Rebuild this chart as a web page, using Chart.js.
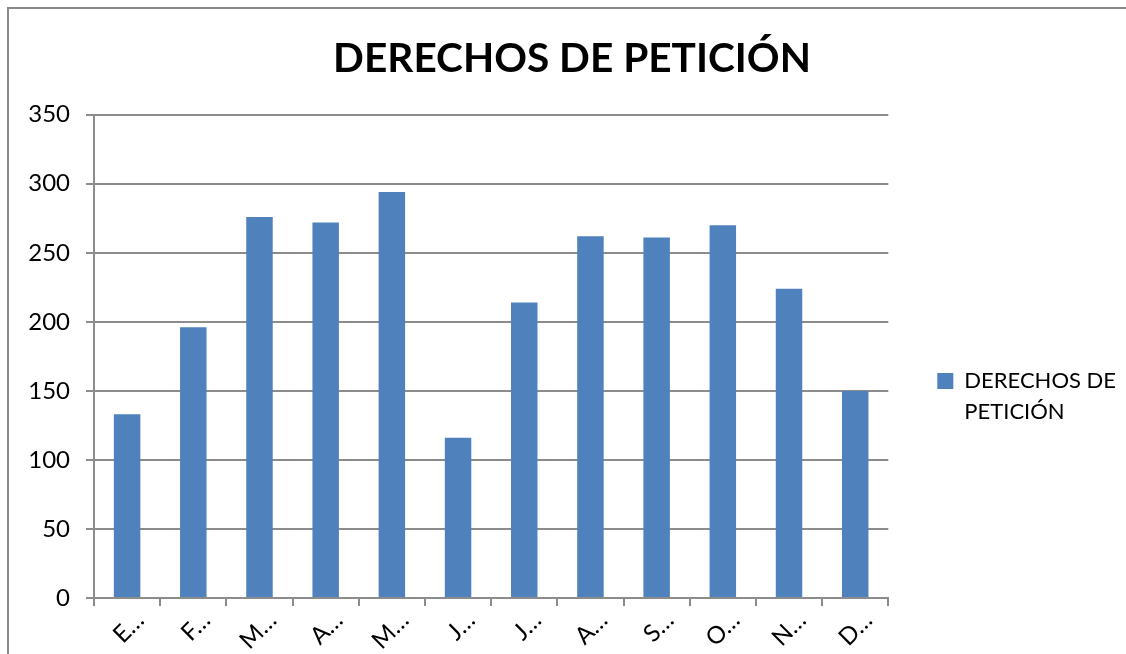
<!DOCTYPE html>
<html>
<head>
<meta charset="utf-8">
<script src="https://cdn.jsdelivr.net/npm/chart.js@4"></script>
<style>
  html, body { margin: 0; padding: 0; background: #fff; overflow: hidden; }
  #frame {
    position: absolute; left: 7px; top: 7px; width: 2000px; height: 2000px;
    border-top: 2px solid #8a8a8a; border-left: 2px solid #8a8a8a;
  }
  #wrap { position: absolute; left: 0; top: 0; width: 1126px; height: 654px; }
</style>
</head>
<body>
<div id="frame"></div>
<div id="wrap"><canvas id="peticionesChart"></canvas></div>
<script>
// Data
var months = ['ENERO', 'FEBRERO', 'MARZO', 'ABRIL', 'MAYO', 'JUNIO',
              'JULIO', 'AGOSTO', 'SEPTIEMBRE', 'OCTUBRE', 'NOVIEMBRE', 'DICIEMBRE'];
var peticiones = [133, 196, 276, 272, 294, 116, 214, 262, 261, 270, 224, 150];
var yTicks = [0, 50, 100, 150, 200, 250, 300, 350];
var seriesName = 'DERECHOS DE PETICIÓN';
var legendLines = ['DERECHOS DE', 'PETICIÓN'];

var gray = '#8c8c8c';
var fontFamily = 'Lato, "Open Sans", sans-serif';

var ctx = document.getElementById('peticionesChart').getContext('2d');
var peticionesChart = new Chart(ctx, {
  type: 'bar',
  data: {
    labels: months,
    datasets: [{
      label: seriesName,
      data: peticiones,
      backgroundColor: '#4f81bd',
      barPercentage: 0.4,
      categoryPercentage: 1.0
    }]
  },
  options: {
    responsive: true,
    maintainAspectRatio: false,
    animation: false,
    layout: { padding: { left: 18, right: 0, top: 0, bottom: 0 } },
    plugins: {
      title: {
        display: true,
        text: seriesName,
        color: '#000',
        font: { family: fontFamily, size: 40.6, weight: 'bold' },
        padding: { top: 35, bottom: 31 }
      },
      legend: {
        position: 'right',
        // empty legend title only pushes the entry down to where the reference has it
        title: { display: true, text: '', font: { size: 12 }, padding: { top: 133, bottom: 0 } },
        labels: {
          color: '#000',
          boxWidth: 16,
          boxHeight: 16,
          padding: 49,
          font: { family: fontFamily, size: 22, lineHeight: 1.4 },
          generateLabels: function(chart) {
            var items = Chart.defaults.plugins.legend.labels.generateLabels(chart);
            items.forEach(function(it) { it.text = legendLines; });
            return items;
          }
        }
      },
      tooltip: { enabled: false }
    },
    scales: {
      x: {
        grid: { drawOnChartArea: false, drawTicks: true, tickLength: 8, color: gray, lineWidth: 2 },
        border: { color: gray, width: 2 },
        ticks: {
          color: '#000',
          font: { family: fontFamily, size: 24 },
          minRotation: 45,
          maxRotation: 45,
          labelOffset: 13,
          padding: 0,
          callback: function(value) {
            return this.getLabelForValue(value).charAt(0) + '…';
          }
        },
        afterFit: function(scale) { scale.height = 56; }
      },
      y: {
        min: 0,
        max: 350,
        grid: { color: gray, lineWidth: 2, tickLength: 8 },
        border: { color: gray, width: 2 },
        afterBuildTicks: function(scale) {
          scale.ticks = yTicks.map(function(v) { return { value: v }; });
        },
        ticks: {
          color: '#000',
          font: { family: fontFamily, size: 24 },
          padding: 16
        },
        afterFit: function(scale) { scale.width = 76; }
      }
    }
  }
});
</script>
</body>
</html>
